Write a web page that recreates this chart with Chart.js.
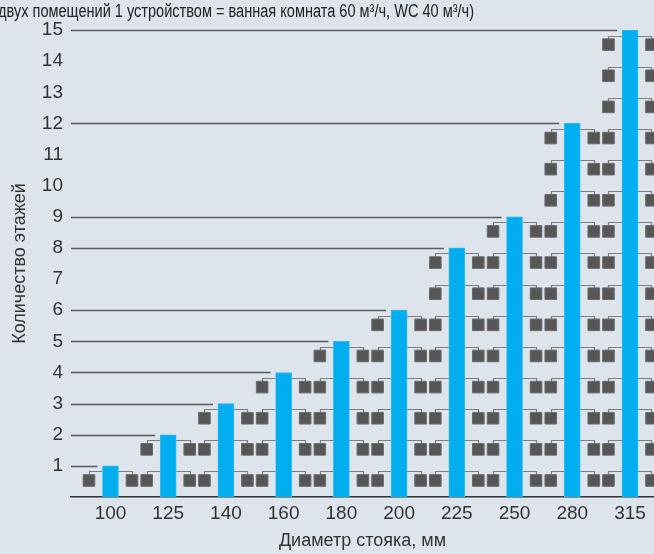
<!DOCTYPE html>
<html>
<head>
<meta charset="utf-8">
<script src="https://cdn.jsdelivr.net/npm/chart.js@4"></script>
<style>
  html, body { margin: 0; padding: 0; background: #dde4eb; overflow: hidden; }
  #wrap { width: 654px; height: 554px; position: relative; }
</style>
</head>
<body>
<div id="wrap"><canvas id="floorsChart"></canvas></div>
<script>
'use strict';

const CATEGORIES = ['100', '125', '140', '160', '180', '200', '225', '250', '280', '315'];
const FLOORS = [1, 2, 3, 4, 5, 6, 8, 9, 12, 15];
const Y_TICKS = [1, 2, 3, 4, 5, 6, 7, 8, 9, 10, 11, 12, 13, 14, 15];
const TITLE_TEXT = 'двух помещений 1 устройством = ванная комната 60 м³/ч, WC 40 м³/ч)';
const X_TITLE = 'Диаметр стояка, мм';
const Y_TITLE = 'Количество этажей';

const SIDE_OFFSET = 0.3725;   // square offset from bar centre, in category units
const SQUARE_DROP = 0.47;     // square centre below floor level, in floor units

const FONT = '"Liberation Sans", Arial, sans-serif';
const TEXT = '#333333';

// squares next to every bar, one pair per floor
const squares = [];
FLOORS.forEach((f, i) => {
    for (let k = 1; k <= f; k++) {
        squares.push({ x: i - SIDE_OFFSET, y: k - SQUARE_DROP, floor: k, bar: i });
        squares.push({ x: i + SIDE_OFFSET, y: k - SQUARE_DROP, floor: k, bar: i });
    }
});

const guides = {
    id: 'guides',
    beforeDatasetsDraw(chart) {
        const { ctx, scales: { x, y } } = chart;
        ctx.save();
        // floor lines from axis to the bar
        ctx.strokeStyle = '#5a5a5a';
        ctx.lineWidth = 1.5;
        FLOORS.forEach((f, i) => {
            const py = Math.round(y.getPixelForValue(f)) + 0.5;
            ctx.beginPath();
            ctx.moveTo(chart.chartArea.left, py);
            ctx.lineTo(x.getPixelForValue(i) - 13, py);
            ctx.stroke();
        });
        // connectors from bar to each square
        ctx.strokeStyle = '#7d7d7d';
        ctx.lineWidth = 1.2;
        squares.forEach(s => {
            const fy = y.getPixelForValue(s.floor);
            const cy = Math.round(fy + 5.5) + 0.5;
            const sx = Math.round(x.getPixelForValue(s.x)) + 0.5;
            const bx = x.getPixelForValue(s.bar) + (s.x < s.bar ? -8 : 8);
            ctx.beginPath();
            ctx.moveTo(bx, cy);
            ctx.lineTo(sx, cy);
            ctx.lineTo(sx, fy + 10);
            ctx.stroke();
        });
        ctx.restore();
    },
    afterDraw(chart) {
        // title line, cut off at the left edge as in the source
        const { ctx } = chart;
        ctx.save();
        ctx.fillStyle = '#222222';
        ctx.font = '18px ' + FONT;
        ctx.textAlign = 'right';
        ctx.textBaseline = 'alphabetic';
        const w = ctx.measureText(TITLE_TEXT).width;
        const k = 476 / w;
        ctx.translate(474, 17);
        ctx.scale(k, 1);
        ctx.fillText(TITLE_TEXT, 0, 0);
        ctx.restore();
    }
};

new Chart(document.getElementById('floorsChart'), {
    type: 'bar',
    data: {
        datasets: [
            {
                type: 'scatter',
                data: squares,
                pointStyle: 'rect',
                pointRadius: 8.2,
                pointHoverRadius: 8.2,
                backgroundColor: '#565656',
                borderColor: '#6b6b6b',
                borderWidth: 1,
                order: 1
            },
            {
                type: 'bar',
                data: FLOORS.map((f, i) => ({ x: i, y: f })),
                backgroundColor: '#00adef',
                borderColor: '#2bbcf2',
                borderWidth: 1,
                barThickness: 16,
                order: 2
            }
        ]
    },
    options: {
        responsive: true,
        maintainAspectRatio: false,
        animation: false,
        events: [],
        layout: { autoPadding: false, padding: { top: 30, right: 0, bottom: 0, left: 0 } },
        plugins: {
            legend: { display: false },
            tooltip: { enabled: false }
        },
        scales: {
            x: {
                type: 'linear',
                offset: false,
                min: -0.684,
                max: 9.416,
                grid: { display: false, drawTicks: false },
                border: { display: true, color: '#333333', width: 1.5 },
                afterBuildTicks: s => { s.ticks = CATEGORIES.map((c, i) => ({ value: i })); },
                ticks: {
                    callback: v => CATEGORIES[v],
                    color: TEXT,
                    font: { family: FONT, size: 19 },
                    padding: 5,
                    maxRotation: 0,
                    autoSkip: false
                },
                title: {
                    display: true,
                    text: X_TITLE,
                    color: TEXT,
                    font: { family: FONT, size: 18 },
                    padding: { top: 4, bottom: 2 }
                },
                afterFit: s => {
                    s.height = 57;
                    s.paddingLeft = 0;
                    s.paddingRight = 0;
                }
            },
            y: {
                min: 0,
                max: 15,
                grid: { display: false, drawTicks: false },
                border: { display: false },
                afterBuildTicks: s => { s.ticks = Y_TICKS.map(v => ({ value: v })); },
                ticks: {
                    color: TEXT,
                    font: { family: FONT, size: 19 },
                    padding: 8
                },
                title: {
                    display: true,
                    text: Y_TITLE,
                    color: TEXT,
                    font: { family: FONT, size: 18 },
                    padding: { top: 9, bottom: 4 }
                },
                afterFit: s => { s.width = 71; }
            }
        }
    },
    plugins: [guides]
});
</script>
</body>
</html>
